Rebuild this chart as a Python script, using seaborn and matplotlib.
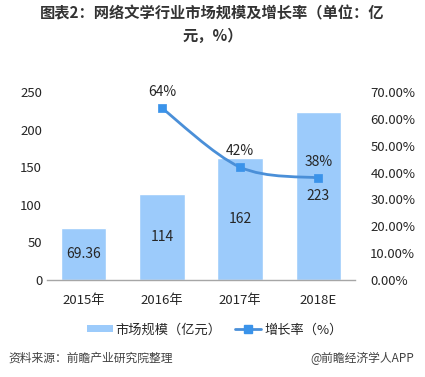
import matplotlib
matplotlib.use("Agg")
import matplotlib.pyplot as plt
from matplotlib.path import Path
from matplotlib.patches import PathPatch, Patch
from matplotlib.lines import Line2D
import numpy as np
import pandas as pd
import seaborn as sns

YEARS = ["2015年", "2016年", "2017年", "2018E"]
MARKET_SIZE = [69.36, 114, 162, 223]
SIZE_LABELS = ["69.36", "114", "162", "223"]
GROWTH_YEARS = ["2016年", "2017年", "2018E"]
GROWTH_RATE = [0.64, 0.42, 0.38]
GROWTH_LABELS = ["64%", "42%", "38%"]

TITLE = "图表2：网络文学行业市场规模及增长率（单位：亿\n元，%）"
SOURCE = "资料来源：前瞻产业研究院整理"
CREDIT = "@前瞻经济学人APP"

BAR_COLOR = "#9ccbfb"
LINE_COLOR = "#4a8fd8"
MARKER_COLOR = "#3a93ea"
TEXT_COLOR = "#262626"

sns.set_theme(style="white")
plt.rcParams["font.family"] = ["Noto Sans CJK SC", "DejaVu Sans"]

fig = plt.figure(figsize=(4.25, 3.77), dpi=100)
ax = fig.add_axes([0.1106, 0.2573, 0.7247, 0.4987])

bars = pd.DataFrame({"year": YEARS, "size": MARKET_SIZE})
sns.barplot(data=bars, x="year", y="size", color=BAR_COLOR, width=0.58,
            saturation=1, ax=ax, zorder=2)
ax.set_ylim(0, 250)
ax.set_yticks([0, 50, 100, 150, 200, 250])
ax.set_xlabel("")
ax.set_ylabel("")
ax.tick_params(axis="both", length=0, labelsize=9.5, colors=TEXT_COLOR)
ax.tick_params(axis="x", pad=10)
for s in ["left", "right", "top"]:
    ax.spines[s].set_visible(False)
ax.spines["bottom"].set_color("#a6a6a6")
ax.spines["bottom"].set_linewidth(1.0)

for i, (v, lab) in enumerate(zip(MARKET_SIZE, SIZE_LABELS)):
    ax.text(i, v / 2, lab, ha="center", va="center", fontsize=10,
            color=TEXT_COLOR, zorder=5)

ax2 = ax.twinx()
ax2.set_ylim(0, 0.7)
ax2.set_yticks(np.arange(0, 0.71, 0.1))
ax2.set_yticklabels([f"{t * 100:.2f}%" for t in np.arange(0, 0.71, 0.1)])
ax2.tick_params(axis="y", length=0, labelsize=9.5, colors=TEXT_COLOR, pad=11)
for s in ax2.spines.values():
    s.set_visible(False)
ax2.grid(False)

xs = [YEARS.index(y) for y in GROWTH_YEARS]
pts = np.column_stack([xs, GROWTH_RATE])
# smoothed line (Catmull-Rom as cubic Bezier), like the spreadsheet chart
verts = [pts[0]]
codes = [Path.MOVETO]
n = len(pts)
for i in range(n - 1):
    p0 = pts[max(i - 1, 0)]
    p1 = pts[i]
    p2 = pts[i + 1]
    p3 = pts[min(i + 2, n - 1)]
    verts += [p1 + (p2 - p0) / 6, p2 - (p3 - p1) / 6, p2]
    codes += [Path.CURVE4] * 3
ax2.add_patch(PathPatch(Path(verts, codes), facecolor="none",
                        edgecolor=LINE_COLOR, lw=2, zorder=3))
sns.scatterplot(x=xs, y=GROWTH_RATE, marker="s", s=40, color=MARKER_COLOR,
                edgecolor=MARKER_COLOR, ax=ax2, zorder=4)
for x, v, lab in zip(xs, GROWTH_RATE, GROWTH_LABELS):
    ax2.annotate(lab, (x, v), xytext=(0, 16), textcoords="offset pixels",
                 ha="center", va="center", fontsize=10, color=TEXT_COLOR)
ax2.set_xlim(ax.get_xlim())

fig.text(0.5, 0.935, TITLE, ha="center", va="center", fontsize=11,
         fontweight="bold", color="#333333", linespacing=1.5)

handles = [
    Patch(facecolor=BAR_COLOR, edgecolor="none"),
    Line2D([], [], color=LINE_COLOR, lw=2, marker="s", markersize=6,
           markerfacecolor=MARKER_COLOR, markeredgecolor=MARKER_COLOR),
]
fig.legend(handles, ["市场规模（亿元）", "增长率（%）"], loc="center",
           bbox_to_anchor=(0.505, 0.125), ncol=2, frameon=False, fontsize=9.5,
           handlelength=2.0, handleheight=0.45, handletextpad=0.2,
           columnspacing=1.0, labelcolor=TEXT_COLOR)

fig.text(0.02, 0.05, SOURCE, ha="left", va="center", fontsize=8.5,
         color="#404040", style="italic")
fig.text(0.975, 0.05, CREDIT, ha="right", va="center", fontsize=8.5,
         color="#404040")

fig.savefig("out.png", dpi=100)
